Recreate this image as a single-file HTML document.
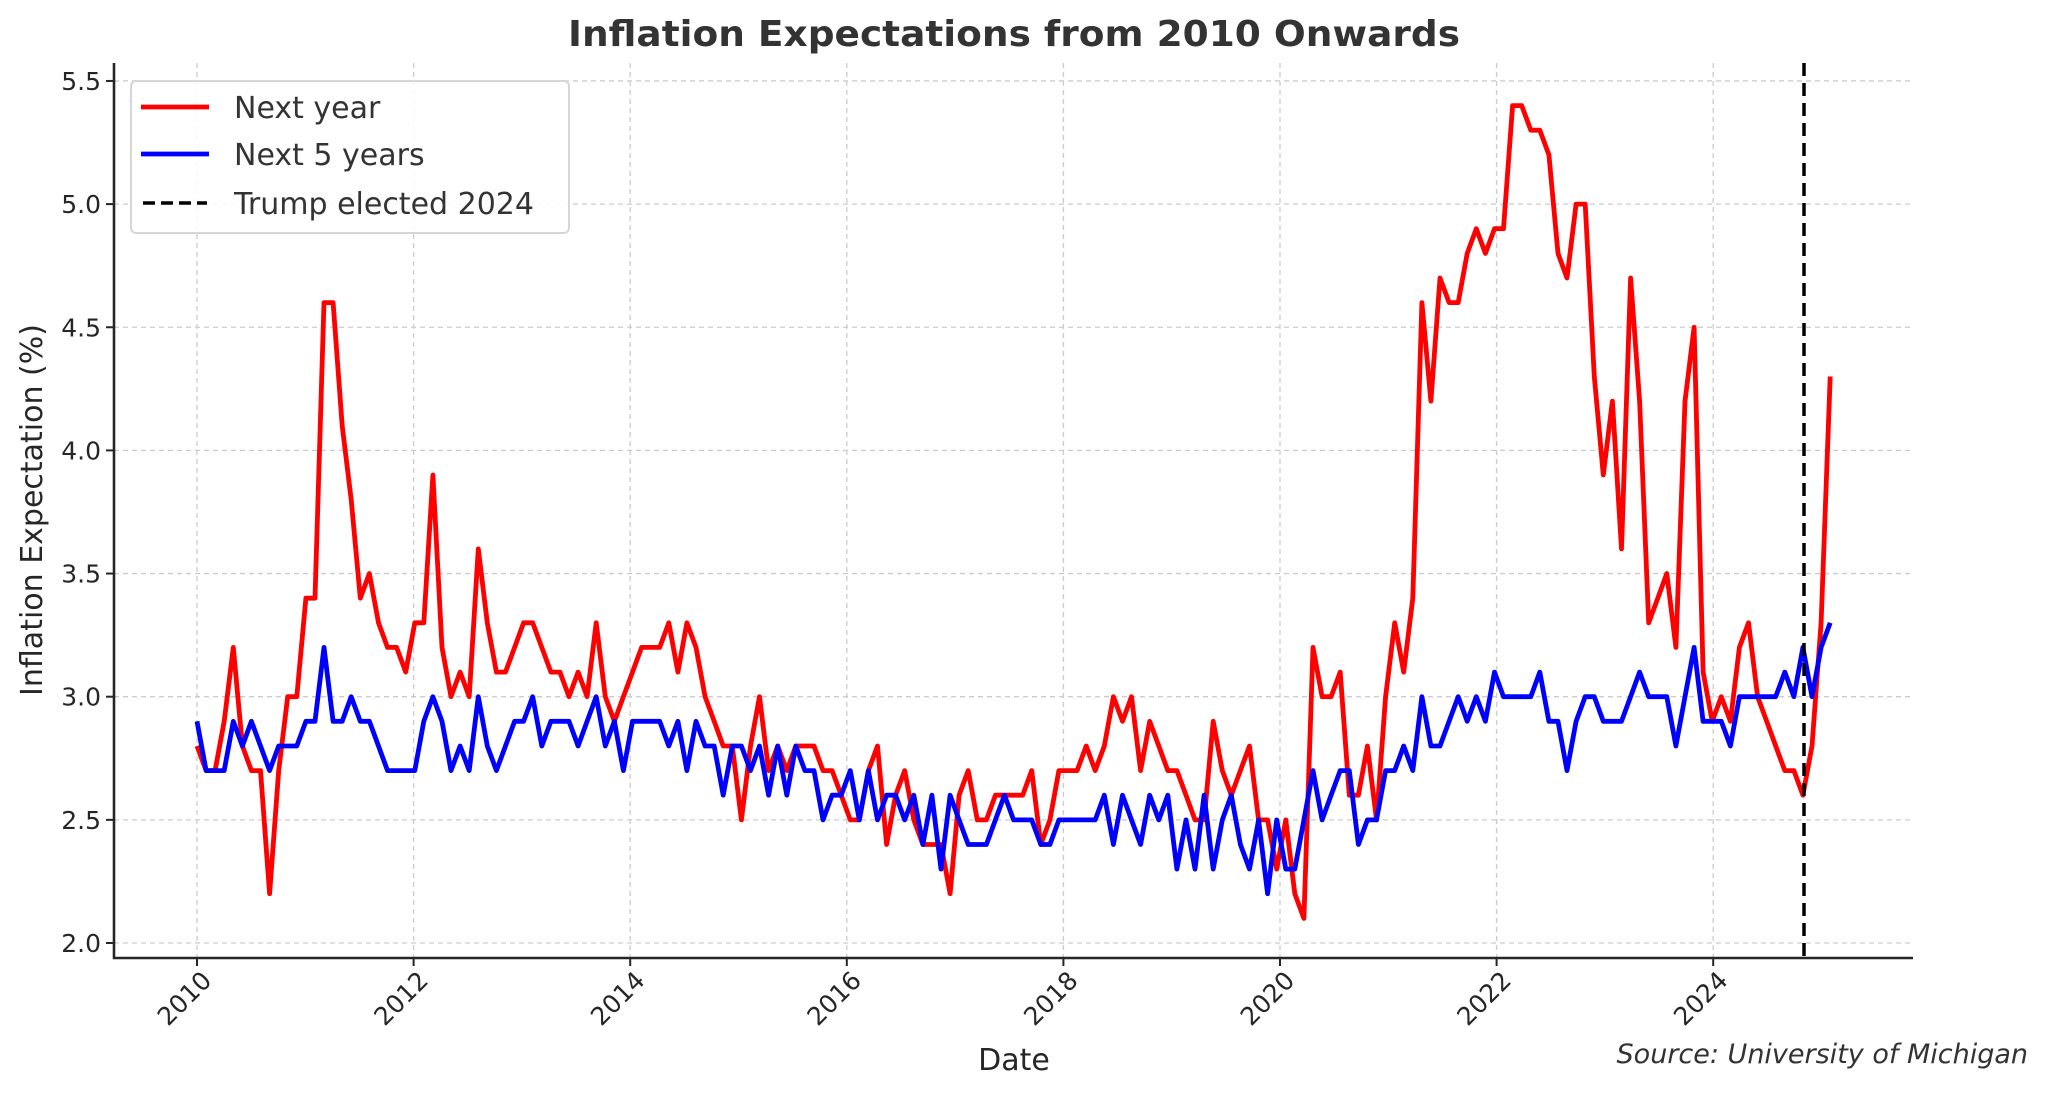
<!DOCTYPE html>
<html><head><meta charset="utf-8"><style>
html,body{margin:0;padding:0;background:#fff;}
svg{display:block;font-family:"DejaVu Sans","Liberation Sans",sans-serif;}
</style></head><body>
<svg id="s" width="2048" height="1097" viewBox="0 0 2048 1097" xmlns="http://www.w3.org/2000/svg">
<rect width="2048" height="1097" fill="#fff"/>
<g id="grid" stroke="#cccccc" stroke-width="1.3" stroke-dasharray="5,4"></g>
<g id="ticks" fill="#262626" font-size="25"></g>
<polyline id="red" fill="none" stroke="#ff0000" stroke-width="4.8" stroke-linejoin="round"/>
<polyline id="blue" fill="none" stroke="#0000ff" stroke-width="4.8" stroke-linejoin="round"/>
<line x1="1804" y1="63" x2="1804" y2="958" stroke="#000" stroke-width="3.5" stroke-dasharray="13,7"/>
<line x1="114" y1="63" x2="114" y2="959" stroke="#262626" stroke-width="2.6"/>
<line x1="113" y1="958" x2="1913" y2="958" stroke="#262626" stroke-width="2.6"/>
<text x="1014" y="46" text-anchor="middle" font-size="36" font-weight="bold" fill="#333" textLength="892" lengthAdjust="spacingAndGlyphs">Inflation Expectations from 2010 Onwards</text>
<text x="1014" y="1070" text-anchor="middle" font-size="30" fill="#262626">Date</text>
<text transform="translate(42,510) rotate(-90)" text-anchor="middle" font-size="30" fill="#262626">Inflation Expectation (%)</text>
<text x="2028" y="1063" text-anchor="end" font-size="27" font-style="italic" fill="#333">Source: University of Michigan</text>
<rect x="131" y="81" width="438" height="152" rx="5" fill="#fff" fill-opacity="0.85" stroke="#d6d6d6" stroke-width="2"/>
<line x1="141" y1="107" x2="209" y2="107" stroke="#ff0000" stroke-width="4.8"/>
<line x1="141" y1="154" x2="209" y2="154" stroke="#0000ff" stroke-width="4.8"/>
<line x1="143" y1="203" x2="207" y2="203" stroke="#000" stroke-width="3.5" stroke-dasharray="12,6"/>
<g font-size="30" fill="#333">
<text x="234" y="118">Next year</text>
<text x="234" y="165">Next 5 years</text>
<text x="234" y="214">Trump elected 2024</text>
</g>
</svg>
<script>
var red=[2.8,2.7,2.7,2.9,3.2,2.8,2.7,2.7,2.2,2.7,3.0,3.0,3.4,3.4,4.6,4.6,4.1,3.8,3.4,3.5,3.3,3.2,3.2,3.1,3.3,3.3,3.9,3.2,3.0,3.1,3.0,3.6,3.3,3.1,3.1,3.2,3.3,3.3,3.2,3.1,3.1,3.0,3.1,3.0,3.3,3.0,2.9,3.0,3.1,3.2,3.2,3.2,3.3,3.1,3.3,3.2,3.0,2.9,2.8,2.8,2.5,2.8,3.0,2.7,2.8,2.7,2.8,2.8,2.8,2.7,2.7,2.6,2.5,2.5,2.7,2.8,2.4,2.6,2.7,2.5,2.4,2.4,2.4,2.2,2.6,2.7,2.5,2.5,2.6,2.6,2.6,2.6,2.7,2.4,2.5,2.7,2.7,2.7,2.8,2.7,2.8,3.0,2.9,3.0,2.7,2.9,2.8,2.7,2.7,2.6,2.5,2.5,2.9,2.7,2.6,2.7,2.8,2.5,2.5,2.3,2.5,2.2,2.1,3.2,3.0,3.0,3.1,2.6,2.6,2.8,2.5,3.0,3.3,3.1,3.4,4.6,4.2,4.7,4.6,4.6,4.8,4.9,4.8,4.9,4.9,5.4,5.4,5.3,5.3,5.2,4.8,4.7,5.0,5.0,4.3,3.9,4.2,3.6,4.7,4.2,3.3,3.4,3.5,3.2,4.2,4.5,3.1,2.9,3.0,2.9,3.2,3.3,3.0,2.9,2.8,2.7,2.7,2.6,2.8,3.3,4.3];
var blue=[2.9,2.7,2.7,2.7,2.9,2.8,2.9,2.8,2.7,2.8,2.8,2.8,2.9,2.9,3.2,2.9,2.9,3.0,2.9,2.9,2.8,2.7,2.7,2.7,2.7,2.9,3.0,2.9,2.7,2.8,2.7,3.0,2.8,2.7,2.8,2.9,2.9,3.0,2.8,2.9,2.9,2.9,2.8,2.9,3.0,2.8,2.9,2.7,2.9,2.9,2.9,2.9,2.8,2.9,2.7,2.9,2.8,2.8,2.6,2.8,2.8,2.7,2.8,2.6,2.8,2.6,2.8,2.7,2.7,2.5,2.6,2.6,2.7,2.5,2.7,2.5,2.6,2.6,2.5,2.6,2.4,2.6,2.3,2.6,2.5,2.4,2.4,2.4,2.5,2.6,2.5,2.5,2.5,2.4,2.4,2.5,2.5,2.5,2.5,2.5,2.6,2.4,2.6,2.5,2.4,2.6,2.5,2.6,2.3,2.5,2.3,2.6,2.3,2.5,2.6,2.4,2.3,2.5,2.2,2.5,2.3,2.3,2.5,2.7,2.5,2.6,2.7,2.7,2.4,2.5,2.5,2.7,2.7,2.8,2.7,3.0,2.8,2.8,2.9,3.0,2.9,3.0,2.9,3.1,3.0,3.0,3.0,3.0,3.1,2.9,2.9,2.7,2.9,3.0,3.0,2.9,2.9,2.9,3.0,3.1,3.0,3.0,3.0,2.8,3.0,3.2,2.9,2.9,2.9,2.8,3.0,3.0,3.0,3.0,3.0,3.1,3.0,3.2,3.0,3.2,3.3];
function X(t){return 197+t*108.3;}
function Y(v){return 943-(v-2)*246.3;}
function pts(a){var n=a.length;return a.map(function(v,i){return X(i*(15.08/(n-1))).toFixed(1)+","+Y(v).toFixed(1);}).join(" ");}
document.getElementById("red").setAttribute("points",pts(red));
document.getElementById("blue").setAttribute("points",pts(blue));
var ns="http://www.w3.org/2000/svg",g=document.getElementById("grid"),tk=document.getElementById("ticks");
function el(p,tag,at,txt){var e=document.createElementNS(ns,tag);for(var k in at)e.setAttribute(k,at[k]);if(txt)e.textContent=txt;p.appendChild(e);return e;}
for(var y=2010;y<=2024;y+=2){var x=X(y-2010);
el(g,"line",{x1:x,y1:63,x2:x,y2:958});
el(tk,"line",{x1:x,y1:958,x2:x,y2:966,stroke:"#262626","stroke-width":2});
el(tk,"text",{transform:"translate("+(x+16)+",982) rotate(-45)","text-anchor":"end"},String(y));}
for(var v=2.0;v<=5.51;v+=0.5){var yy=Y(v);
el(g,"line",{x1:114,y1:yy,x2:1913,y2:yy});
el(tk,"line",{x1:106,y1:yy,x2:114,y2:yy,stroke:"#262626","stroke-width":2});
el(tk,"text",{x:101,y:yy+9,"text-anchor":"end"},v.toFixed(1));}
</script>
</body></html>
